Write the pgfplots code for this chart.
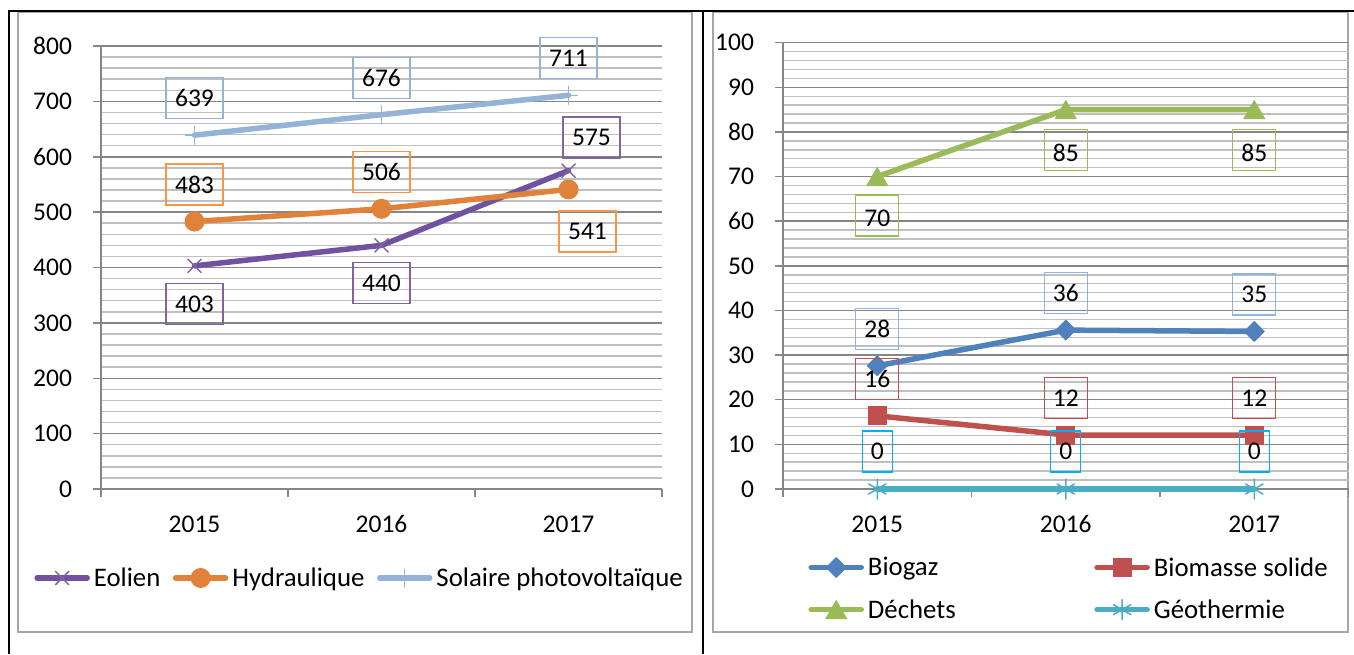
\documentclass[border=0pt]{standalone}
\usepackage{fontspec}
\setmainfont{Carlito}
\usepackage{pgfplots}
\usepackage{pgfplotstable}
\pgfplotsset{compat=1.18}
\newcommand{\cf}{\fontsize{25.5}{30}\selectfont}
\newcommand{\lf}{\fontsize{26.8}{31}\selectfont}

\pgfdeclareplotmark{lboxA}{\pgfpathrectangle{\pgfpoint{-28.5pt}{-20.5pt}}{\pgfpoint{57pt}{41pt}}\pgfusepathqstroke}
\pgfdeclareplotmark{lboxB}{\pgfpathrectangle{\pgfpoint{-21.5pt}{-20.5pt}}{\pgfpoint{43pt}{41pt}}\pgfusepathqstroke}
\pgfdeclareplotmark{lboxC}{\pgfpathrectangle{\pgfpoint{-15pt}{-20.5pt}}{\pgfpoint{30pt}{41pt}}\pgfusepathqstroke}

\definecolor{eol}{RGB}{112,82,160}
\definecolor{eolbox}{RGB}{128,100,162}
\definecolor{hyd}{RGB}{224,130,58}
\definecolor{hydbox}{RGB}{247,150,70}
\definecolor{sol}{RGB}{149,179,215}
\definecolor{bio}{RGB}{79,129,189}
\definecolor{biobox}{RGB}{141,180,226}
\definecolor{bms}{RGB}{192,80,77}
\definecolor{dec}{RGB}{155,187,89}
\definecolor{geo}{RGB}{75,172,198}
\definecolor{geobox}{RGB}{0,176,240}
\definecolor{majgrid}{RGB}{134,134,134}
\definecolor{mingrid}{RGB}{191,191,191}
\definecolor{framec}{RGB}{166,166,166}

\pgfplotstableread{
x y lab dx dy
0.5 403 403 0 -38
1.5 440 440 0 -38
2.5 575 575 23 33
}\eolien
\pgfplotstableread{
x y lab dx dy
0.5 483 483 0 37
1.5 506 506 0 37
2.5 541 541 19 -42
}\hydro
\pgfplotstableread{
x y lab dx dy
0.5 639 639 0 37
1.5 676 676 0 37
2.5 711 711 0 37
}\solaire
\pgfplotstableread{
x y lab dx dy
0.5 27.6 28 0 37
1.5 35.6 36 0 37
2.5 35.3 35 0 37
}\biogaz
\pgfplotstableread{
x y lab dx dy
0.5 16.4 16 0 37
1.5 12.1 12 0 37
2.5 12.1 12 0 37
}\biomasse
\pgfplotstableread{
x y lab dx dy
0.5 70 70 0 -39
1.5 85 85 0 -40
2.5 85 85 0 -40
}\dechets
\pgfplotstableread{
x y lab dx dy
0.5 0 0 0 37.5
1.5 0 0 0 37.5
2.5 0 0 0 37.5
}\geoth

\pgfplotsset{
  xlchart/.style={
    scale only axis, clip=false,
    xmin=0, xmax=3, xtick={0,1,2,3}, x tick label as interval,
    xticklabels={2015,2016,2017},
    axis lines*=left,
    axis line style={majgrid, line width=1.5pt},
    tick style={majgrid, line width=1.5pt},
    tick align=outside, major tick length=8pt, minor tick length=0pt,
    ymajorgrids, yminorgrids, minor y tick num=4,
    major grid style={majgrid, line width=1.5pt},
    minor grid style={mingrid, line width=1.5pt},
    tick label style={font=\cf},
    /pgf/number format/assume math mode=true,
    xticklabel style={yshift=-15pt},
    yticklabel style={xshift=-17.5pt},
    legend image code/.code={\draw[##1, mark repeat=2, mark phase=2] plot coordinates {(0pt,0pt) (25pt,0pt) (50pt,0pt)};},
    legend cell align=left,
    legend style={draw=none, fill=none, inner sep=0pt, font=\lf, nodes={inner sep=0pt},
      /tikz/every odd column/.append style={column sep=4pt}},
    point meta=explicit symbolic,
    visualization depends on={\thisrow{dx} \as \ddx},
    visualization depends on={\thisrow{dy} \as \ddy},
  },
  ser/.style n args={2}{line width=5.5pt, line cap=round, line join=round, draw=#1, mark=#2,
    nodes near coords={\pgfplotspointmeta},
    every node near coord/.append style={anchor=center, xshift=\ddx pt, yshift=\ddy pt, inner sep=0pt, font=\cf, text=black}},
  boxes/.style n args={2}{only marks, forget plot, mark=#1,
    mark options={draw=#2, line width=1.2pt, fill=none, solid},
    scatter,
    scatter/@pre marker code/.code={\pgfscope\pgftransformshift{\pgfpoint{\ddx pt}{\ddy pt}}},
    scatter/@post marker code/.code={\endpgfscope}},
}

\begin{document}
\begin{tikzpicture}
\useasboundingbox (0pt,0pt) rectangle (1354pt,654pt);
\draw[framec, line width=1.5pt] (18pt,22pt) rectangle (692pt,641.5pt);
\draw[framec, line width=1.5pt] (713pt,22pt) rectangle (1348pt,641.5pt);
\draw[black, line width=2pt] (8.5pt,0pt) -- (8.5pt,643pt) -- (1354pt,643pt);
\draw[black, line width=2pt] (703pt,643pt) -- (703pt,0pt);

\begin{axis}[xlchart, at={(101pt,165pt)}, anchor=south west, width=561pt, height=443pt,
  ymin=0, ymax=800, ytick={0,100,...,800},
  legend columns=3,
  legend style={at={(-0.119,-0.2009)}, anchor=west, /tikz/every even column/.append style={column sep=12.5pt}}]
\addplot[ser={eol}{x}, mark options={line width=1.5pt, draw=eolbox}, mark size=9.5pt] table[x=x,y=y,meta=lab]{\eolien};
\addlegendentry{Eolien}
\addplot[ser={hyd}{*}, mark options={line width=1pt, draw=hyd, fill=hyd}, mark size=9.5pt] table[x=x,y=y,meta=lab]{\hydro};
\addlegendentry{Hydraulique}
\addplot[ser={sol}{+}, mark options={line width=1.5pt, draw=sol}, mark size=9pt] table[x=x,y=y,meta=lab]{\solaire};
\addlegendentry{Solaire photovoltaïque}
\addplot[boxes={lboxA}{eolbox}] table[x=x,y=y,meta=lab]{\eolien};
\addplot[boxes={lboxA}{hydbox}] table[x=x,y=y,meta=lab]{\hydro};
\addplot[boxes={lboxA}{sol}] table[x=x,y=y,meta=lab]{\solaire};
\end{axis}

\begin{axis}[xlchart, at={(783pt,165pt)}, anchor=south west, width=565.5pt, height=446.3pt,
  ymin=0, ymax=100, ytick={0,10,...,100},
  legend columns=2,
  legend style={at={(0.0447,-0.2231)}, anchor=west, row sep=22pt, /tikz/every even column/.append style={column sep=138.5pt}}]
\addplot[ser={bio}{square*}, mark options={line width=1pt, rotate=45, draw=bio, fill=bio}, mark size=7pt] table[x=x,y=y,meta=lab]{\biogaz};
\addlegendentry{Biogaz}
\addplot[ser={bms}{square*}, mark options={line width=1pt, draw=bms, fill=bms}, mark size=9pt] table[x=x,y=y,meta=lab]{\biomasse};
\addlegendentry{Biomasse solide}
\addplot[ser={dec}{triangle*}, mark options={line width=1pt, draw=dec, fill=dec, yshift=-3pt}, mark size=12pt] table[x=x,y=y,meta=lab]{\dechets};
\addlegendentry{Déchets}
\addplot[ser={geo}{asterisk}, mark options={line width=1.5pt, draw=geo}, mark size=10pt] table[x=x,y=y,meta=lab]{\geoth};
\addlegendentry{Géothermie}
\addplot[boxes={lboxB}{biobox}] table[x=x,y=y,meta=lab]{\biogaz};
\addplot[boxes={lboxB}{bms}] table[x=x,y=y,meta=lab]{\biomasse};
\addplot[boxes={lboxB}{dec}] table[x=x,y=y,meta=lab]{\dechets};
\addplot[boxes={lboxC}{geobox}] table[x=x,y=y,meta=lab]{\geoth};
\end{axis}
\end{tikzpicture}
\end{document}
